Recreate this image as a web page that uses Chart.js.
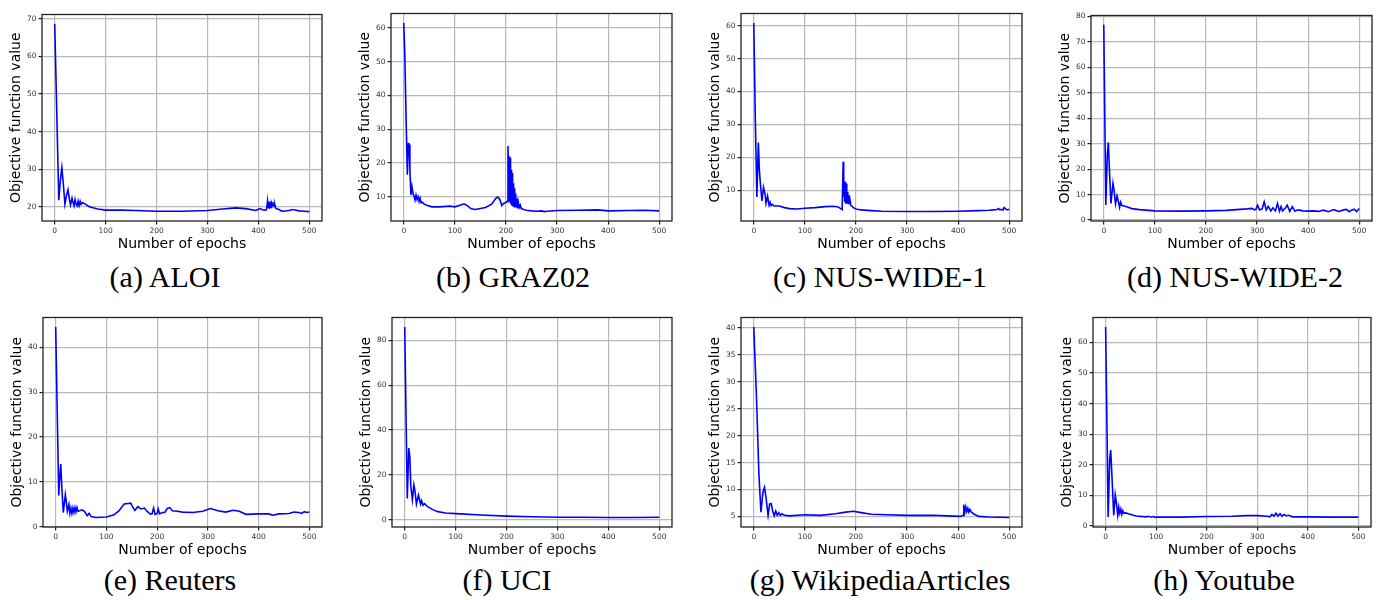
<!DOCTYPE html>
<html>
<head>
<meta charset="utf-8">
<script src="https://cdn.jsdelivr.net/npm/chart.js@4.4.0/dist/chart.umd.min.js"></script>
<style>
body { margin:0; background:#fff; width:1376px; height:600px; position:relative; overflow:hidden; }
canvas { position:absolute; }
.cap { position:absolute; font-family:"Liberation Serif", "Times New Roman", serif; font-size:30px; color:#000; transform:translate(-50%,-50%); white-space:nowrap; }
</style>
</head>
<body>
<script>
// epochs / objective values
var epochsA = [0,8,11,14,17,20,23,26,29,31,34,36,38,40,42,44,46,48,50,52,55,60,68,75,85,100,130,160,200,250,300,330,355,375,395,400,403,408,413,416,418,419,420,421,422,423,424,425,426,427,428,429,430,431,432,434,437,440,445,450,460,465,470,480,490,500];
var lossA = [68.6,21.8,27,30.5,26,20.8,23,24.6,22,20.6,22.4,21.2,20.3,22,20.8,20.3,21.6,20.4,21.5,20.7,21.2,20.8,20.1,19.8,19.5,19.2,19.2,19.1,18.9,18.9,19.1,19.5,19.8,19.6,19.1,19.4,19.6,19.3,19.2,19.3,21.6,20,21.4,19.8,21.5,20.2,21.3,19.9,21,20.6,21.3,20.4,20.9,20.2,20.8,19.7,19.5,19.4,19.0,18.9,19.1,19.3,19.3,19.0,18.9,18.8];

var epochsB = [0,2,5,7,9,10,11,12,14,16,18,20,22,24,26,28,30,32,34,36,40,45,55,70,90,100,110,118,125,132,140,160,172,180,184,188,192,195,199,202,203,204,205,206,207,208,209,210,211,212,213,214,215,216,217,218,219,220,221,222,223,224,226,228,230,235,240,250,260,270,275,280,300,340,380,400,440,470,500];
var lossB = [61.5,52,30,16.5,26,22,25.5,18,10.5,13,11,10.2,9,10.5,9.2,10,8.6,9.6,8.2,8.4,7.8,7.5,7.0,7.0,7.2,7.0,7.5,7.9,7.3,6.4,6.2,6.8,7.8,9.5,9.9,9.2,7.4,8.0,8.2,8.6,8.5,25,10,22,8.5,21.5,8,18,7.5,17,7.2,14,7,12.5,6.8,11,6.8,9.5,6.8,9.2,6.5,8.5,6.8,7.5,6.5,6.2,6.0,5.8,5.7,5.8,5.6,5.7,5.9,6.0,6.1,5.8,5.9,6.0,5.8];

var epochsC = [0,3,6,9,11,13,16,19,22,24,27,30,32,34,36,40,50,60,70,85,100,120,140,155,165,170,173,175,176,177,178,179,180,181,182,183,184,185,186,188,190,195,200,210,230,250,300,350,400,440,460,470,476,479,482,485,488,490,493,496,500];
var lossC = [60.8,32,8.0,24.5,16,12,6.8,11,9,6.1,8.3,5.5,6.4,5.4,5.8,5.3,5.3,4.8,4.5,4.4,4.6,4.8,5.1,5.2,5.0,4.5,4.2,18.7,8,12.8,6.5,12.5,6,12,6,9.5,6,8.5,5.8,7.5,5.5,4.8,4.4,4.1,3.9,3.7,3.6,3.6,3.7,3.9,4.0,4.1,4.2,4.5,4.1,4.3,4.1,4.8,4.4,4.1,4.3];

var epochsD = [0,4,7,9,11,14,18,20,23,26,29,31,33,35,38,45,55,70,100,150,200,240,260,280,290,295,298,301,305,310,314,318,322,327,331,336,340,344,347,350,355,359,364,369,374,380,390,400,410,420,430,440,450,460,470,475,480,485,490,495,500];
var lossD = [76.7,5.9,26,30.5,20,6.5,14.5,12,6.3,9.5,7,5,7,5.8,5.6,5.2,4.5,4.1,3.6,3.5,3.6,3.8,4.1,4.4,4.6,4.0,4.3,5.8,4.0,4.4,7.2,4.0,5.4,3.6,4.8,3.6,6.5,3.5,5.3,3.6,4.6,5.8,3.4,5.3,3.5,4.0,3.6,3.5,3.6,3.4,3.9,3.3,4.1,3.4,4.0,4.2,3.3,3.9,4.3,3.3,4.5];

var epochsE = [0,3,6,8,10,12,15,19,21,23,26,28,30,32,34,36,38,40,42,44,47,52,57,62,66,70,80,100,115,125,135,148,152,156,162,168,175,180,186,190,193,196,200,202,205,210,215,220,225,230,240,250,270,290,305,320,335,350,362,375,400,420,428,440,460,470,480,485,490,495,500];
var lossE = [44.5,26,7,11,14,9,3.2,7.2,5.5,3.5,5,3,4.2,3,4.2,3.2,4.3,3.3,4.3,3.5,3.6,3.8,3.4,2.5,3.0,2.3,2.1,2.2,2.7,3.6,5.1,5.3,4.4,3.7,4.5,4.0,4.2,3.5,2.9,2.9,4.2,2.8,3.0,4.0,2.9,3.2,3.2,4.1,4.3,3.6,3.5,3.3,3.2,3.5,4.1,3.6,3.3,3.7,3.5,2.8,2.9,2.9,2.6,2.9,3.0,3.3,3.2,3.0,3.4,3.2,3.3];

var epochsF = [0,5,8,10,12,15,18,20,23,27,29,31,33,36,39,45,55,65,80,100,150,200,250,300,350,400,450,500];
var lossF = [86,9.5,32,28,15,9,15.5,13,7,11,9,7,8.5,6.5,7.2,5.8,4.5,3.6,3.0,2.7,2.1,1.6,1.3,1.1,1.1,1.0,1.0,1.1];

var epochsG = [0,5,10,14,18,21,24,28,31,34,37,40,43,46,49,52,55,60,70,100,130,160,180,195,210,230,260,300,350,380,405,410,411,413,415,417,419,421,423,426,430,440,460,500];
var lossG = [40.2,28,13,5.8,9.5,10.4,8.5,5.2,7.3,7.4,6,5.1,6,5.2,5.7,5.2,5.5,5.2,5.1,5.3,5.2,5.5,5.8,5.95,5.7,5.4,5.3,5.2,5.2,5.1,5.0,5.2,7.2,5.8,6.8,5.9,6.5,5.8,6.3,5.8,5.5,5.0,4.9,4.8];

var epochsH = [0,5,8,10,12,16,19,21,24,26,28,30,32,34,36,40,45,60,80,85,90,95,98,100,150,200,250,280,300,320,325,329,333,337,341,345,349,353,357,362,370,380,400,450,500];
var lossH = [65,3,22,24.8,18,3.5,10.2,8,3.5,6.2,4.2,5.5,3.8,5,4.2,4.3,4,3.3,3.0,3.2,2.9,3.1,2.8,2.9,2.9,3.1,3.2,3.4,3.4,3.2,3.0,3.8,3.2,4.2,3.2,4.0,3.2,3.8,3.3,3.5,3.0,3.0,3.0,2.9,2.9];

var xTicks = [0,100,200,300,400,500];
var yTicksA = [20,30,40,50,60,70];
var yTicksB = [10,20,30,40,50,60];
var yTicksC = [10,20,30,40,50,60];
var yTicksD = [0,10,20,30,40,50,60,70,80];
var yTicksE = [0,10,20,30,40];
var yTicksF = [0,20,40,60,80];
var yTicksG = [5,10,15,20,25,30,35,40];
var yTicksH = [0,10,20,30,40,50,60];

var captions = ['(a) ALOI','(b) GRAZ02','(c) NUS-WIDE-1','(d) NUS-WIDE-2','(e) Reuters','(f) UCI','(g) WikipediaArticles','(h) Youtube'];

var panels = [
  {x:epochsA, y:lossA, yt:yTicksA}, {x:epochsB, y:lossB, yt:yTicksB},
  {x:epochsC, y:lossC, yt:yTicksC}, {x:epochsD, y:lossD, yt:yTicksD},
  {x:epochsE, y:lossE, yt:yTicksE}, {x:epochsF, y:lossF, yt:yTicksF},
  {x:epochsG, y:lossG, yt:yTicksG}, {x:epochsH, y:lossH, yt:yTicksH}
];

// plot area on the page: left, top, right, bottom
var boxes = [
  [42,12,322,221], [391,11,672,221], [741,11,1022,221], [1091,13,1372,221],
  [43,315,322,527], [392,315,672,527], [741,315,1022,527], [1093,315,1371,527]
];
var capPos = [[165,277],[513,277],[880,277],[1235,277],[170,580],[507,580],[880,580],[1224,580]];

Chart.defaults.font.family = 'DejaVu Sans';

var framePlugin = {
  id: 'frame',
  afterDraw: function(chart) {
    var a = chart.chartArea, ctx = chart.ctx;
    ctx.save();
    ctx.strokeStyle = '#222';
    ctx.lineWidth = 1.3;
    ctx.strokeRect(a.left, a.top, a.right - a.left, a.bottom - a.top);
    ctx.restore();
  }
};

function makeChart(i) {
  var p = panels[i], b = boxes[i];
  var w = b[2] - b[0] + 43, h = b[3] - b[1] + 38;
  var cv = document.createElement('canvas');
  cv.width = w; cv.height = h;
  cv.style.left = (b[0] - 40) + 'px';
  cv.style.top = (b[1] - 4) + 'px';
  cv.style.width = w + 'px';
  cv.style.height = h + 'px';
  document.body.appendChild(cv);

  var lo = Math.min.apply(null, p.y), hi = Math.max.apply(null, p.y);
  var pad = (hi - lo) * 0.05;

  new Chart(cv, {
    type: 'line',
    data: {
      datasets: [{
        data: p.x.map(function(e, k) { return {x: e, y: p.y[k]}; }),
        borderColor: '#0000ff',
        borderWidth: 1.6,
        pointRadius: 0,
        tension: 0
      }]
    },
    options: {
      responsive: false,
      animation: false,
      devicePixelRatio: 1,
      layout: {padding: {top: 4, right: 3, left: 0, bottom: 0}},
      plugins: {legend: {display: false}, tooltip: {enabled: false}},
      scales: {
        x: {
          type: 'linear', min: -25, max: 525,
          afterBuildTicks: function(s) { s.ticks = xTicks.map(function(v) { return {value: v}; }); },
          afterFit: function(s) { s.height = 34; },
          grid: {color: '#b8b8b8', lineWidth: 1.2, tickColor: '#222', tickLength: 3.5},
          border: {display: false},
          ticks: {font: {size: 7.5}, color: '#333', padding: 2, maxRotation: 0, autoSkip: false},
          title: {display: true, text: 'Number of epochs', font: {size: 14}, color: '#000', padding: {top: 0, bottom: 2}}
        },
        y: {
          type: 'linear', min: lo - pad, max: hi + pad,
          afterBuildTicks: function(s) { s.ticks = p.yt.map(function(v) { return {value: v}; }); },
          afterFit: function(s) { s.width = 40; },
          grid: {color: '#b8b8b8', lineWidth: 1.2, tickColor: '#222', tickLength: 3.5},
          border: {display: false},
          ticks: {font: {size: 7.5}, color: '#333', padding: 2, autoSkip: false},
          title: {display: true, text: 'Objective function value', font: {size: 14}, color: '#000', padding: {top: 6, bottom: 0}}
        }
      }
    },
    plugins: [framePlugin]
  });

  var cap = document.createElement('div');
  cap.className = 'cap';
  cap.textContent = captions[i];
  cap.style.left = capPos[i][0] + 'px';
  cap.style.top = capPos[i][1] + 'px';
  document.body.appendChild(cap);
}

for (var i = 0; i < panels.length; i++) makeChart(i);
</script>
</body>
</html>
